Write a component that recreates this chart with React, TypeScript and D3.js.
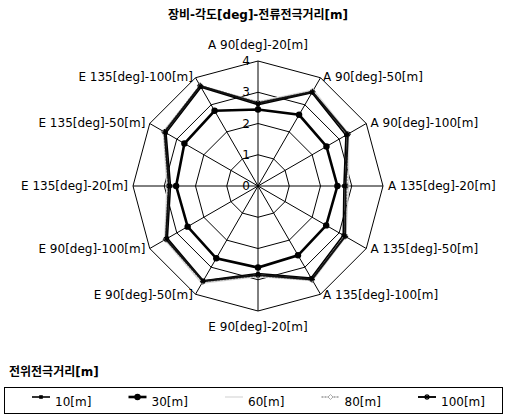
import React from 'react';
import * as d3 from 'd3';

const title = '장비-각도[deg]-전류전극거리[m]';
const legendTitle = '전위전극거리[m]';

const categories = [
  'A 90[deg]-20[m]',
  'A 90[deg]-50[m]',
  'A 90[deg]-100[m]',
  'A 135[deg]-20[m]',
  'A 135[deg]-50[m]',
  'A 135[deg]-100[m]',
  'E 90[deg]-20[m]',
  'E 90[deg]-50[m]',
  'E 90[deg]-100[m]',
  'E 135[deg]-20[m]',
  'E 135[deg]-50[m]',
  'E 135[deg]-100[m]',
];

const seriesNames = ['10[m]', '30[m]', '60[m]', '80[m]', '100[m]'];

const values10 = [2.6, 3.45, 3.25, 2.75, 3.15, 3.4, 2.8, 3.5, 3.35, 2.8, 3.4, 3.65];
const values30 = [2.45, 2.63, 2.53, 2.54, 2.52, 2.56, 2.61, 2.67, 2.6, 2.62, 2.72, 2.78];
const values60 = [2.7, 3.55, 3.35, 2.9, 3.25, 3.5, 2.9, 3.6, 3.45, 2.92, 3.5, 3.7];
const values80 = [2.68, 3.5, 3.3, 2.85, 3.2, 3.48, 2.88, 3.55, 3.42, 2.88, 3.48, 3.72];
const values100 = [2.65, 3.48, 3.32, 2.8, 3.22, 3.45, 2.85, 3.52, 3.4, 2.85, 3.45, 3.7];

const ticks = [0, 1, 2, 3, 4];

const styles = [
  { stroke: '#000', width: 1.6, dash: null, marker: 'small', fill: '#000' },
  { stroke: '#000', width: 2.6, dash: null, marker: 'dot', fill: '#000' },
  { stroke: '#d8d8d8', width: 1.2, dash: null, marker: 'none', fill: '#d8d8d8' },
  { stroke: '#9a9a9a', width: 1.4, dash: '2,1', marker: 'diamond', fill: '#fff' },
  { stroke: '#111', width: 2, dash: null, marker: 'star', fill: '#000' },
];

const font = '"DejaVu Sans", "Noto Sans CJK KR", sans-serif';

const Marker = ({ type, x, y, s }) => {
  if (type === 'dot') return <circle cx={x} cy={y} r={3.2} fill={s.fill} />;
  if (type === 'small') return <rect x={x - 1.8} y={y - 1.8} width={3.6} height={3.6} fill={s.fill} />;
  if (type === 'diamond')
    return <path d={`M${x},${y - 2.5}L${x + 2.5},${y}L${x},${y + 2.5}L${x - 2.5},${y}Z`} fill="#fff" stroke={s.stroke} strokeWidth={0.8} />;
  if (type === 'star')
    return (
      <g stroke="#000" strokeWidth={1.2}>
        <line x1={x - 3} y1={y} x2={x + 3} y2={y} />
        <line x1={x} y1={y - 3} x2={x} y2={y + 3} />
        <line x1={x - 2} y1={y - 2} x2={x + 2} y2={y + 2} />
        <line x1={x - 2} y1={y + 2} x2={x + 2} y2={y - 2} />
      </g>
    );
  return null;
};

const App = () => {
  const width = 509;
  const height = 419;
  const cx = 258;
  const cy = 186;
  const radius = 125;

  const allSeries = [values10, values30, values60, values80, values100];

  const r = d3.scaleLinear().domain([0, 4]).range([0, radius]);
  const angle = d3
    .scalePoint()
    .domain(categories)
    .range([0, 2 * Math.PI])
    .padding(0);
  const step = (2 * Math.PI) / categories.length;
  const ang = (i) => i * step;

  const gridLine = d3
    .lineRadial<number>()
    .angle((_, i) => ang(i))
    .radius((d) => r(d))
    .curve(d3.curveLinearClosed);

  const pos = (i, v) => {
    const a = ang(i);
    return [cx + r(v) * Math.sin(a), cy - r(v) * Math.cos(a)];
  };

  // draw order: light ones first, inner thick last
  const drawOrder = [2, 3, 0, 4, 1];

  return (
    <svg width={width} height={height} style={{ position: 'absolute', left: 0, top: 0, background: '#fff' }}>
      <text x={cx} y={19} textAnchor="middle" fontFamily={font} fontSize={12} fontWeight="bold">
        {title}
      </text>

      <g transform={`translate(${cx},${cy})`}>
        {ticks
          .filter((t) => t > 0)
          .map((t) => (
            <path key={t} d={gridLine(categories.map(() => t))} fill="none" stroke="#000" strokeWidth={1} />
          ))}
        {categories.map((c, i) => {
          const a = ang(i);
          return <line key={c} x1={0} y1={0} x2={r(4) * Math.sin(a)} y2={-r(4) * Math.cos(a)} stroke="#000" strokeWidth={1} />;
        })}
      </g>

      {ticks.map((t) => (
        <text key={t} x={cx - 12} y={cy - r(t) + 4} textAnchor="middle" fontFamily={font} fontSize={12} fill="#000">
          {t}
        </text>
      ))}

      {drawOrder.map((si) => {
        const s = styles[si];
        const vals = allSeries[si];
        return (
          <g key={si}>
            <path
              d={gridLine(vals)}
              transform={`translate(${cx},${cy})`}
              fill="none"
              stroke={s.stroke}
              strokeWidth={s.width}
              strokeDasharray={s.dash ?? undefined}
            />
            {vals.map((v, i) => {
              const [x, y] = pos(i, v);
              return <Marker key={i} type={s.marker} x={x} y={y} s={s} />;
            })}
          </g>
        );
      })}

      {categories.map((c, i) => {
        const a = ang(i);
        const sn = Math.sin(a);
        const cs = Math.cos(a);
        const anchor = sn > 0.01 ? 'start' : sn < -0.01 ? 'end' : 'middle';
        const x = cx + 130 * sn;
        const y = cy - 126 * cs + (Math.abs(sn) < 0.01 ? -15 * Math.sign(cs) : 0) + 4;
        return (
          <text key={c} x={x} y={y} textAnchor={anchor} fontFamily={font} fontSize={12} fill="#000">
            {c}
          </text>
        );
      })}

      <text x={9} y={376} fontFamily={font} fontSize={12} fontWeight="bold">
        {legendTitle}
      </text>
      <rect x={4.5} y={387.5} width={498} height={26} fill="none" stroke="#000" strokeWidth={1} />
      {seriesNames.map((name, i) => {
        const s = styles[i];
        const x0 = 32 + i * 96.5;
        return (
          <g key={name}>
            <line x1={x0} y1={397} x2={x0 + 18} y2={397} stroke={s.stroke} strokeWidth={s.width} strokeDasharray={s.dash ?? undefined} />
            <Marker type={s.marker} x={x0 + 9} y={397} s={s} />
            <text x={x0 + 23} y={406} fontFamily={font} fontSize={12}>
              {name}
            </text>
          </g>
        );
      })}
    </svg>
  );
};

export default App;
